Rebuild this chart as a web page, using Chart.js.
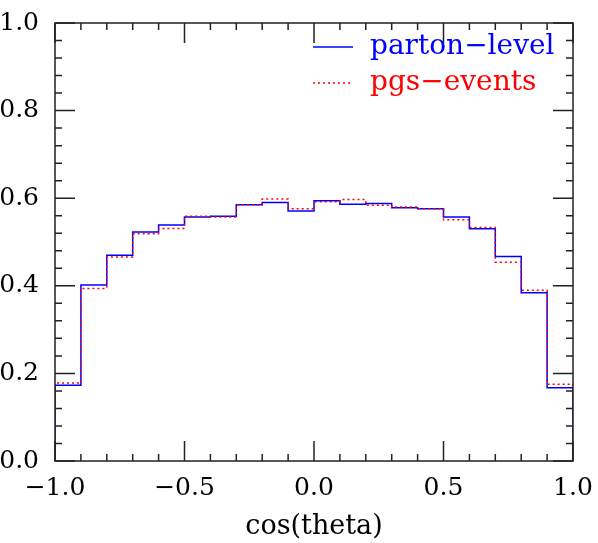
<!DOCTYPE html>
<html>
<head>
<meta charset="utf-8">
<script src="https://cdn.jsdelivr.net/npm/chart.js@4/dist/chart.umd.min.js"></script>
<style>
  html, body { margin: 0; padding: 0; background: #fff; }
  #wrap { width: 598px; height: 543px; }
</style>
</head>
<body>
<div id="wrap"><canvas id="chart" width="598" height="543"></canvas></div>
<script>
// bin edges of cos(theta), 20 bins of 0.1
const binEdges = [-1.0, -0.9, -0.8, -0.7, -0.6, -0.5, -0.4, -0.3, -0.2, -0.1,
                  0.0, 0.1, 0.2, 0.3, 0.4, 0.5, 0.6, 0.7, 0.8, 0.9, 1.0];

const partonLevel = [0.173, 0.402, 0.470, 0.523, 0.539, 0.557, 0.559, 0.585, 0.590, 0.571,
                     0.594, 0.586, 0.588, 0.578, 0.576, 0.557, 0.530, 0.467, 0.384, 0.167];

const pgsEvents = [0.178, 0.394, 0.466, 0.519, 0.531, 0.559, 0.557, 0.585, 0.598, 0.576,
                   0.592, 0.597, 0.584, 0.580, 0.576, 0.551, 0.533, 0.454, 0.390, 0.175];

const xTicks = [-1.0, -0.5, 0.0, 0.5, 1.0];
const yTicks = [0.0, 0.2, 0.4, 0.6, 0.8, 1.0];

const seriesNames = ["parton\u2212level", "pgs\u2212events"];

// histogram outline: rise from 0 at the left edge, one step per bin, drop to 0
// (points sit on the right edge of each bin; stepped "after" goes vertical first)
function histPoints(vals) {
  const pts = [{ x: binEdges[0], y: 0 }, { x: binEdges[0], y: vals[0] }];
  vals.forEach((v, i) => pts.push({ x: binEdges[i + 1], y: v }));
  pts.push({ x: binEdges[binEdges.length - 1], y: 0 });
  return pts;
}

const fmt = v => (v < 0 ? "\u2212" : "") + Math.abs(v).toFixed(1);
const FONT = "DejaVu Serif";

// frame, inward ticks on all sides, and the legend
const framePlugin = {
  id: "frame",
  afterDatasetsDraw(chart) {
    const ctx = chart.ctx;
    const a = chart.chartArea;
    const xs = chart.scales.x, ys = chart.scales.y;
    ctx.save();
    ctx.strokeStyle = "#222";
    ctx.lineWidth = 1.5;
    ctx.strokeRect(a.left, a.top, a.right - a.left, a.bottom - a.top);

    ctx.beginPath();
    for (let i = 0; i <= 20; i++) {
      const v = -1 + i * 0.1;
      const px = xs.getPixelForValue(v);
      const len = (i % 5 === 0) ? 20 : 7;
      ctx.moveTo(px, a.bottom); ctx.lineTo(px, a.bottom - len);
      ctx.moveTo(px, a.top); ctx.lineTo(px, a.top + len);
    }
    for (let i = 0; i <= 25; i++) {
      const v = i * 0.04;
      const py = ys.getPixelForValue(v);
      const len = (i % 5 === 0) ? 20 : 7;
      ctx.moveTo(a.left, py); ctx.lineTo(a.left + len, py);
      ctx.moveTo(a.right, py); ctx.lineTo(a.right - len, py);
    }
    ctx.stroke();

    // legend
    const items = [
      { y: 47, color: "#0000ff", dash: [], name: seriesNames[0] },
      { y: 83, color: "#ff0000", dash: [2, 3], name: seriesNames[1] }
    ];
    ctx.font = "28px '" + FONT + "'";
    ctx.textBaseline = "middle";
    ctx.textAlign = "left";
    items.forEach(it => {
      ctx.beginPath();
      ctx.setLineDash(it.dash);
      ctx.lineWidth = 1.3;
      ctx.strokeStyle = it.color;
      ctx.moveTo(313, it.y); ctx.lineTo(353, it.y);
      ctx.stroke();
      ctx.setLineDash([]);
      ctx.fillStyle = it.color;
      ctx.fillText(it.name, 370, it.y);
    });
    ctx.restore();
  }
};

new Chart(document.getElementById("chart"), {
  type: "line",
  data: {
    datasets: [
      {
        label: seriesNames[0],
        data: histPoints(partonLevel),
        borderColor: "#0000ff",
        borderWidth: 1.5,
        stepped: "after",
        pointRadius: 0,
        fill: false,
        order: 1
      },
      {
        label: seriesNames[1],
        data: histPoints(pgsEvents),
        borderColor: "#ff0000",
        borderWidth: 1.5,
        borderDash: [2, 3],
        stepped: "after",
        pointRadius: 0,
        fill: false,
        order: 0
      }
    ]
  },
  options: {
    responsive: false,
    animation: false,
    layout: { padding: { top: 11, right: 25, left: 0, bottom: 0 } },
    plugins: { legend: { display: false }, tooltip: { enabled: false } },
    scales: {
      x: {
        type: "linear",
        min: -1, max: 1,
        afterBuildTicks: s => { s.ticks = xTicks.map(v => ({ value: v })); },
        afterFit: s => { s.height = 82; },
        grid: { display: false },
        border: { display: false },
        ticks: {
          color: "#000",
          font: { family: FONT, size: 25 },
          padding: 4,
          maxRotation: 0,
          callback: v => fmt(v)
        },
        title: {
          display: true,
          text: "cos(theta)",
          color: "#000",
          font: { family: FONT, size: 27 },
          padding: { top: 2, bottom: 0 }
        }
      },
      y: {
        min: 0, max: 1,
        afterBuildTicks: s => { s.ticks = yTicks.map(v => ({ value: v })); },
        afterFit: s => { s.width = 55; },
        grid: { display: false },
        border: { display: false },
        ticks: {
          color: "#000",
          font: { family: FONT, size: 25 },
          padding: 8,
          callback: v => fmt(v)
        }
      }
    }
  },
  plugins: [framePlugin]
});
</script>
</body>
</html>
